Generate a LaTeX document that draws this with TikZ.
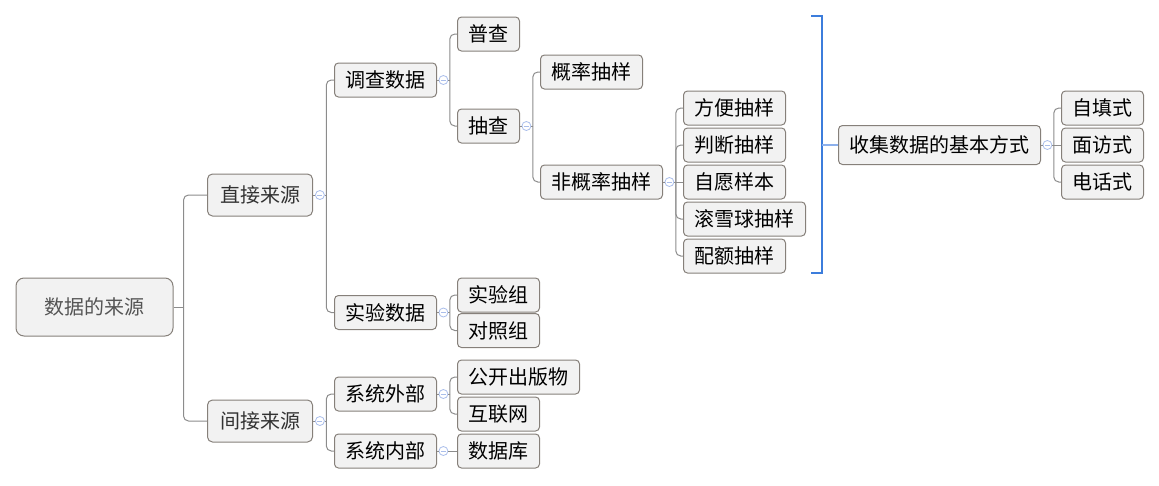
\documentclass[tikz,border=0pt]{standalone}
\usepackage{fontspec}
\setmainfont{Noto Sans CJK SC}
\usetikzlibrary{positioning}
\definecolor{boxline}{RGB}{134,128,122}
\definecolor{boxfill}{RGB}{242,242,242}
\definecolor{linkgray}{RGB}{140,140,140}
\definecolor{foldblue}{RGB}{170,190,235}
\definecolor{bracketblue}{RGB}{60,125,220}
\definecolor{bracketlight}{RGB}{140,176,236}
\definecolor{roottext}{RGB}{85,85,85}
\definecolor{maintext}{RGB}{50,50,50}
\tikzset{
    box_root/.style={rectangle, draw=boxline, line width=1pt, rounded corners=8pt, fill=boxfill, text=roottext, font=\fontsize{20}{24}\selectfont, minimum width=157pt, minimum height=58pt, inner sep=0pt},
    box_main/.style={rectangle, draw=boxline, line width=1pt, rounded corners=5pt, fill=boxfill, text=maintext, font=\fontsize{20}{24}\selectfont, minimum height=42pt, inner xsep=12.5pt, inner ysep=0pt},
    box_topic/.style={rectangle, draw=boxline, line width=1pt, rounded corners=4pt, fill=boxfill, text=black, font=\fontsize{20}{24}\selectfont, minimum height=34pt, inner xsep=11pt, inner ysep=0pt},
    fold/.style={circle, draw=foldblue, fill=white, line width=0.8pt, inner sep=0pt, minimum size=9pt, path picture={\draw[foldblue, line width=0.8pt] ([xshift=-2.5pt]path picture bounding box.center) -- ([xshift=2.5pt]path picture bounding box.center);}},
    link/.style={draw=linkgray, line width=1pt, rounded corners=5pt},
    bracket/.style={draw=bracketblue, line width=1.3pt},
    bracket_link/.style={draw=bracketlight, line width=1.3pt}
}
\begin{document}
\begin{tikzpicture}[x=1pt, y=-1pt, node distance=2pt]
    \useasboundingbox (0,0) rectangle (1159,485);
    % main tree
    \node (root) [box_root] at (94.5,307) {数据的来源};
    \node (direct) [box_main, anchor=west] at (207,195) {直接来源};
    \node (indirect) [box_main, anchor=west] at (207,421) {间接来源};

    \node (survey) [box_topic, anchor=west] at (334,80) {调查数据};
    \node (expt) [box_topic, anchor=west] at (334,312.5) {实验数据};
    \node (extsys) [box_topic, anchor=west] at (334,394) {系统外部};
    \node (intsys) [box_topic, anchor=west] at (334,451) {系统内部};

    \node (census) [box_topic, anchor=west] at (457,34) {普查};
    \node (sample) [box_topic, anchor=west] at (457,126) {抽查};
    \node (group) [box_topic, anchor=west] at (457,295) {实验组};
    \node (control) [box_topic, below=0.5pt of group.south west, anchor=north west] {对照组};
    \node (publ) [box_topic, anchor=west] at (457,377) {公开出版物};
    \node (web) [box_topic, below=of publ.south west, anchor=north west] {互联网};
    \node (db) [box_topic, anchor=west] at (457,451) {数据库};

    \node (prob) [box_topic, anchor=west] at (540,72) {概率抽样};
    \node (nonprob) [box_topic, anchor=west] at (540,182) {非概率抽样};

    \node (conv) [box_topic, anchor=west] at (683,108) {方便抽样};
    \node (judge) [box_topic, below=of conv.south west, anchor=north west] {判断抽样};
    \node (volun) [box_topic, below=of judge.south west, anchor=north west] {自愿样本};
    \node (snow) [box_topic, below=of volun.south west, anchor=north west] {滚雪球抽样};
    \node (quota) [box_topic, below=of snow.south west, anchor=north west] {配额抽样};

    \node (ways) [box_topic, anchor=west, minimum height=39pt] at (838,145) {收集数据的基本方式};
    \node (self) [box_topic, anchor=west] at (1061,108) {自填式};
    \node (face) [box_topic, below=of self.south west, anchor=north west] {面访式};
    \node (phone) [box_topic, below=of face.south west, anchor=north west] {电话式};

    % fold marks
    \node (f_direct) [fold, right=2pt of direct] {};
    \node (f_indirect) [fold, right=2pt of indirect] {};
    \node (f_survey) [fold, right=1.5pt of survey] {};
    \node (f_expt) [fold, right=1.5pt of expt] {};
    \node (f_extsys) [fold, right=1.5pt of extsys] {};
    \node (f_intsys) [fold, right=1.5pt of intsys] {};
    \node (f_sample) [fold, right=1.5pt of sample] {};
    \node (f_nonprob) [fold, right=1.5pt of nonprob] {};
    \node (f_ways) [fold, right=1.5pt of ways] {};

    % trunks
    \coordinate (t_root) at ([xshift=10pt]root.east);
    \coordinate (t_direct) at ([xshift=1.5pt]f_direct.east);
    \coordinate (t_indirect) at ([xshift=1.5pt]f_indirect.east);
    \coordinate (t_survey) at ([xshift=1.5pt]f_survey.east);
    \coordinate (t_expt) at ([xshift=1.5pt]f_expt.east);
    \coordinate (t_extsys) at ([xshift=1.5pt]f_extsys.east);
    \coordinate (t_intsys) at ([xshift=1.5pt]f_intsys.east);
    \coordinate (t_sample) at ([xshift=1.5pt]f_sample.east);
    \coordinate (t_nonprob) at ([xshift=1.5pt]f_nonprob.east);
    \coordinate (t_ways) at ([xshift=1.5pt]f_ways.east);

    \draw [link] (root.east) -- (t_root);
    \draw [link] (t_root) |- (direct.west);
    \draw [link] (t_root) |- (indirect.west);

    \draw [link] (direct) -- (f_direct);
    \draw [link] (f_direct.east) -- (t_direct);
    \draw [link] (t_direct) |- (survey.west);
    \draw [link] (t_direct) |- (expt.west);

    \draw [link] (indirect) -- (f_indirect);
    \draw [link] (f_indirect.east) -- (t_indirect);
    \draw [link] (t_indirect) |- (extsys.west);
    \draw [link] (t_indirect) |- (intsys.west);

    \draw [link] (survey) -- (f_survey);
    \draw [link] (f_survey.east) -- (t_survey);
    \draw [link] (t_survey) |- (census.west);
    \draw [link] (t_survey) |- (sample.west);

    \draw [link] (expt) -- (f_expt);
    \draw [link] (f_expt.east) -- (t_expt);
    \draw [link] (t_expt) |- (group.west);
    \draw [link] (t_expt) |- (control.west);

    \draw [link] (extsys) -- (f_extsys);
    \draw [link] (f_extsys.east) -- (t_extsys);
    \draw [link] (t_extsys) |- (publ.west);
    \draw [link] (t_extsys) |- (web.west);

    \draw [link] (intsys) -- (f_intsys);
    \draw [link] (f_intsys.east) -- (db.west);

    \draw [link] (sample) -- (f_sample);
    \draw [link] (f_sample.east) -- (t_sample);
    \draw [link] (t_sample) |- (prob.west);
    \draw [link] (t_sample) |- (nonprob.west);

    \draw [link] (nonprob) -- (f_nonprob);
    \draw [link] (f_nonprob.east) -- (t_nonprob);
    \draw [link] (t_nonprob) |- (conv.west);
    \draw [link] (t_nonprob) |- (judge.west);
    \draw [link] (t_nonprob) -- (volun.west);
    \draw [link] (t_nonprob) |- (snow.west);
    \draw [link] (t_nonprob) |- (quota.west);

    \draw [link] (ways) -- (f_ways);
    \draw [link] (f_ways.east) -- (t_ways);
    \draw [link] (t_ways) |- (self.west);
    \draw [link] (t_ways) -- (face.west);
    \draw [link] (t_ways) |- (phone.west);

    % bracket over the sampling ways
    \coordinate (brk_top) at (811,16);
    \coordinate (brk_bot) at (811,273);
    \coordinate (brk_mid) at (822,145);
    \draw [bracket] (brk_top) -- ++(11,0) |- (brk_bot);
    \draw [bracket_link] (brk_mid) -- (ways.west);
\end{tikzpicture}
\end{document}
